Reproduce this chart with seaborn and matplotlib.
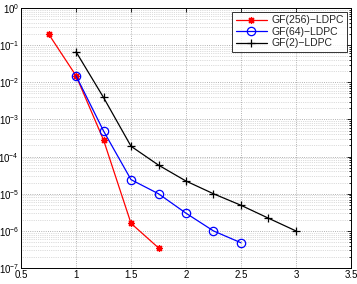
import matplotlib
matplotlib.use("Agg")
import matplotlib.pyplot as plt
import seaborn as sns
from matplotlib.ticker import LogLocator, NullFormatter

# Eb/N0 (dB) and BER for each code
x_gf256 = [0.75, 1.0, 1.25, 1.5, 1.75]
y_gf256 = [2.0e-1, 1.5e-2, 2.8e-4, 1.6e-6, 3.5e-7]

x_gf64 = [1.0, 1.25, 1.5, 1.75, 2.0, 2.25, 2.5]
y_gf64 = [1.5e-2, 4.9e-4, 2.4e-5, 1.0e-5, 3.0e-6, 1.0e-6, 4.8e-7]

x_gf2 = [1.0, 1.25, 1.5, 1.75, 2.0, 2.25, 2.5, 2.75, 3.0]
y_gf2 = [6.6e-2, 3.9e-3, 1.9e-4, 5.9e-5, 2.2e-5, 1.0e-5, 4.9e-6, 2.2e-6, 1.0e-6]

x_ticks = [0.5, 1, 1.5, 2, 2.5, 3, 3.5]
x_ticklabels = ['0.5', '1', '1.5', '2', '2.5', '3', '3.5']

sns.set_style("white")
plt.rcParams['font.family'] = ['Liberation Sans', 'DejaVu Sans']
plt.rcParams['font.size'] = 7

fig = plt.figure(figsize=(3.57, 2.84), dpi=100)
ax = fig.add_axes([0.059, 0.056, 0.924, 0.916])

sns.lineplot(x=x_gf256, y=y_gf256, ax=ax, color='red', marker=(8, 2, 0), markersize=5,
             markeredgecolor='red', markeredgewidth=0.9, linewidth=0.9,
             label='GF(256)\u2212LDPC')
sns.lineplot(x=x_gf64, y=y_gf64, ax=ax, color='blue', marker='o', markersize=6,
             markerfacecolor='none', markeredgecolor='blue', markeredgewidth=0.9,
             linewidth=0.9, label='GF(64)\u2212LDPC')
sns.lineplot(x=x_gf2, y=y_gf2, ax=ax, color='black', marker='+', markersize=6,
             markeredgecolor='black', markeredgewidth=0.9, linewidth=0.9,
             label='GF(2)\u2212LDPC')

ax.set_yscale('log')
ax.set_xlim(0.5, 3.5)
ax.set_ylim(1e-7, 1e0)
ax.set_xticks(x_ticks)
ax.set_xticklabels(x_ticklabels)
ax.yaxis.set_major_locator(LogLocator(base=10, numticks=10))
ax.yaxis.set_minor_locator(LogLocator(base=10, subs=range(2, 10), numticks=100))
ax.yaxis.set_minor_formatter(NullFormatter())

ax.grid(True, which='major', linestyle=':', color='#999999', linewidth=0.6)
ax.grid(True, which='minor', axis='y', linestyle=':', color='#bbbbbb', linewidth=0.5)
ax.tick_params(direction='in', which='both', top=True, right=True, length=3, width=0.6,
               colors='black', labelsize=7, pad=1.5)
ax.tick_params(which='minor', length=1.5)
for s in ax.spines.values():
    s.set_color('black')
    s.set_linewidth(0.7)
ax.set_xlabel('')
ax.set_ylabel('')

leg = ax.legend(loc='upper right', fontsize=7.5, frameon=True, fancybox=False,
                borderpad=0.35, labelspacing=0.15, handlelength=3.0, handletextpad=0.4,
                borderaxespad=0.35)
leg.get_frame().set_edgecolor('black')
leg.get_frame().set_linewidth(0.7)

fig.savefig('out.png', dpi=100)
